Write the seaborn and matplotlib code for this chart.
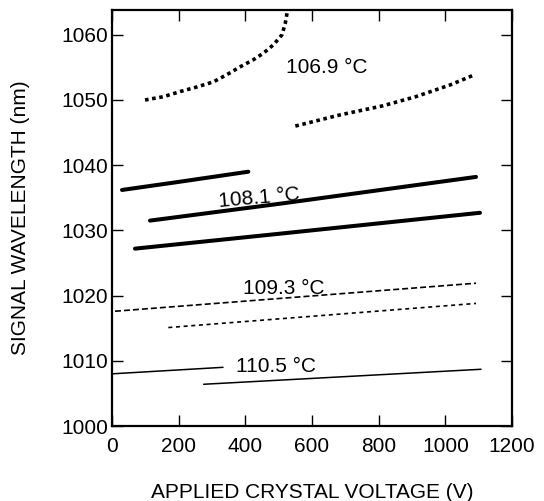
import numpy as np
import pandas as pd
import seaborn as sns
import matplotlib
matplotlib.use('Agg')
import matplotlib.pyplot as plt

# values (voltage in V, wavelength in nm)
v_1069a = [99, 154, 205, 255, 305, 345, 385, 425, 455, 485, 510, 520, 525]
w_1069a = [1050.0, 1050.5, 1051.3, 1052.0, 1052.8, 1053.9, 1055.1, 1056.2, 1057.2, 1058.5, 1060.0, 1061.8, 1063.3]
v_1069b = [550, 683, 812, 911, 1014, 1089]
w_1069b = [1046.0, 1047.7, 1049.1, 1050.5, 1052.3, 1053.9]

v_1081a = [30, 195, 409]
w_1081a = [1036.2, 1037.4, 1039.0]
v_1081b = [114, 505, 1092]
w_1081b = [1031.5, 1034.1, 1038.2]
v_1081c = [69, 505, 1104]
w_1081c = [1027.2, 1029.5, 1032.7]

v_1093a = [9, 1092]
w_1093a = [1017.6, 1021.9]
v_1093b = [169, 1092]
w_1093b = [1015.1, 1018.8]

v_1105a = [0, 333]
w_1105a = [1008.0, 1009.0]
v_1105b = [275, 1107]
w_1105b = [1006.4, 1008.7]

labels = ['106.9 °C', '108.1 °C', '109.3 °C', '110.5 °C']
label_v = [644, 440, 514, 493]
label_w = [1055.0, 1034.9, 1021.1, 1009.2]
label_rot = [0, 5, 0, 0]

sns.set_theme(style='ticks')
plt.rcParams['font.family'] = ['Liberation Sans', 'DejaVu Sans']
plt.rcParams['text.color'] = 'black'
plt.rcParams['axes.labelcolor'] = 'black'
plt.rcParams['xtick.color'] = 'black'
plt.rcParams['ytick.color'] = 'black'

fig = plt.figure(figsize=(5.44, 5.01), dpi=100)
ax = fig.add_axes([112/544, 75/501, 400/544, 416/501])

dot = dict(lw=2.6, linestyle=(0, (1, 1)))
thick = dict(lw=2.9, linestyle='-')
dash = dict(lw=1.2, linestyle=(0, (3.6, 1.8)))
fine = dict(lw=1.2, linestyle=(0, (2.4, 2.2)))
thin = dict(lw=1.1, linestyle='-')

segs = [(v_1069a, w_1069a, dot), (v_1069b, w_1069b, dot),
        (v_1081a, w_1081a, thick), (v_1081b, w_1081b, thick), (v_1081c, w_1081c, thick),
        (v_1093a, w_1093a, dash), (v_1093b, w_1093b, fine),
        (v_1105a, w_1105a, thin), (v_1105b, w_1105b, thin)]

for v, w, st in segs:
    df = pd.DataFrame({'v': v, 'w': w})
    sns.lineplot(data=df, x='v', y='w', ax=ax, color='black', **st)

for t, x, y, r in zip(labels, label_v, label_w, label_rot):
    ax.text(x, y, t, ha='center', va='center', fontsize=15, rotation=r)

ax.set_xlim(0, 1200)
ax.set_ylim(1000, 1063.8)
ax.set_xticks(np.arange(0, 1201, 200))
ax.set_yticks(np.arange(1000, 1061, 10))
ax.tick_params(direction='in', length=8, width=1, top=True, right=True, labelsize=15, color='black')
ax.tick_params(axis='x', pad=8)
ax.tick_params(axis='y', pad=3)
for s in ax.spines.values():
    s.set_linewidth(1.6)
    s.set_color('black')
ax.set_xlabel('APPLIED CRYSTAL VOLTAGE (V)', fontsize=15, labelpad=19)
ax.set_ylabel('SIGNAL WAVELENGTH (nm)', fontsize=15, labelpad=22)

plt.savefig('out.png', dpi=100)
plt.close('all')
